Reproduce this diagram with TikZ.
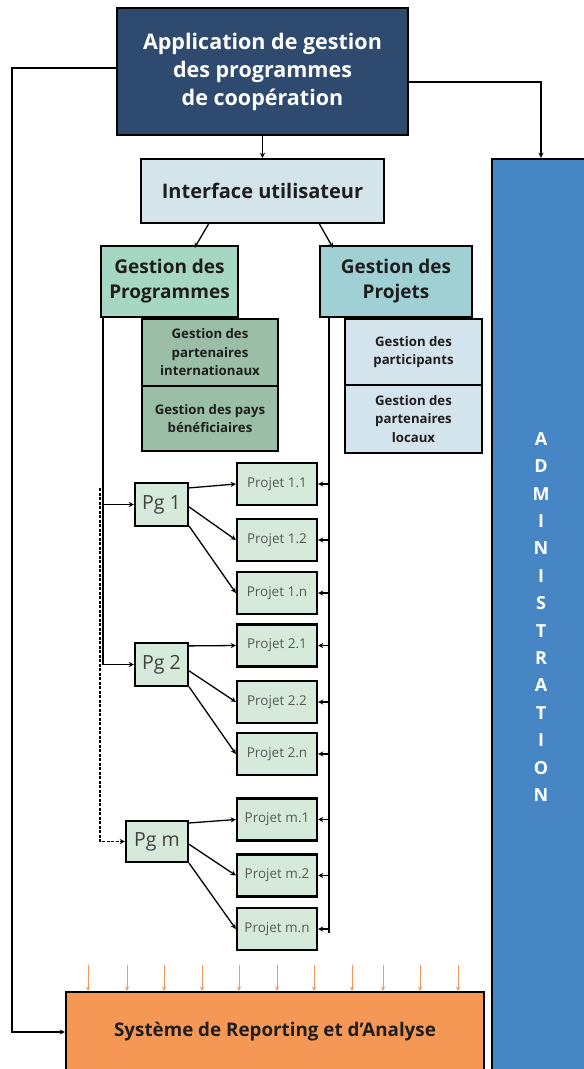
\documentclass[tikz,border=0pt]{standalone}
\usepackage{fontspec}
\setmainfont{Open Sans}
\usepackage{tikz}
\usetikzlibrary{calc}
\tikzset{>=stealth}

\definecolor{navy}{RGB}{46,74,110}
\definecolor{uiblue}{RGB}{211,228,234}
\definecolor{mint}{RGB}{166,214,196}
\definecolor{teal}{RGB}{160,208,212}
\definecolor{sage}{RGB}{155,191,166}
\definecolor{paleblue}{RGB}{212,228,236}
\definecolor{pale}{RGB}{213,234,219}
\definecolor{adminblue}{RGB}{70,134,197}
\definecolor{orangebox}{RGB}{246,152,85}
\definecolor{orangearr}{RGB}{247,150,90}
\definecolor{ink}{RGB}{30,30,30}

\tikzset{
  box/.style={draw=black,line width=2.2pt,align=center,inner sep=0pt},
  smallbox/.style={box,font=\fontsize{13.2}{18.5}\selectfont\bfseries,text=ink},
  pgbox/.style={box,fill=pale,minimum width=53pt,minimum height=43pt,
    font=\fontsize{19.5}{20}\selectfont,text=ink!85},
  projbox/.style={box,fill=pale,minimum width=80pt,minimum height=42pt,
    font=\fontsize{13.5}{14}\selectfont,text=black!65},
  link/.style={line width=1.3pt,->},
}

\begin{document}
\begin{tikzpicture}[x=1pt,y=-1pt]
      \clip (0,0) rectangle (584,1069);
      \useasboundingbox (0,0) rectangle (584,1069);

      % top level
      \node[box,fill=navy,text=white,minimum width=291pt,minimum height=127pt,
            font=\fontsize{21.5}{28}\selectfont\bfseries] (app) at (262.5,71.5)
            {Application de gestion\\des programmes\\de coopération};
      \node[box,fill=uiblue,text=ink,minimum width=243pt,minimum height=64pt,
            font=\fontsize{20}{22}\selectfont\bfseries] (ui) at (262.5,191)
            {Interface utilisateur};
      \node[box,fill=adminblue,text=white,minimum width=98pt,minimum height=916pt,
            font=\fontsize{18}{27.4}\selectfont\bfseries] (admin) at (541,617)
            {A\\D\\M\\I\\N\\I\\S\\T\\R\\A\\T\\I\\O\\N};
      \node[box,fill=orangebox,text=ink,minimum width=418pt,minimum height=80pt,
            font=\fontsize{18.8}{20}\selectfont\bfseries] (report) at (275,1032)
            {Système de Reporting et d'Analyse};

      % gestion
      \node[box,fill=mint,text=ink,minimum width=137pt,minimum height=71pt,
            font=\fontsize{19}{25}\selectfont\bfseries] (gprog) at (169.5,281.5)
            {Gestion des\\Programmes};
      \node[box,fill=teal,text=ink,minimum width=152pt,minimum height=71pt,
            font=\fontsize{19}{25}\selectfont\bfseries] (gproj) at (396,281.5)
            {Gestion des\\Projets};
      \node[smallbox,fill=sage,minimum width=136pt,minimum height=67pt] (gpart) at (210,352.5)
            {Gestion des\\partenaires\\internationaux};
      \node[smallbox,fill=sage,minimum width=136pt,minimum height=65pt] (gpays) at (210,418.5)
            {Gestion des pays\\bénéficiaires};
      \node[smallbox,fill=paleblue,minimum width=137pt,minimum height=66pt] (gparti) at (413.5,352)
            {Gestion des\\participants};
      \node[smallbox,fill=paleblue,minimum width=137pt,minimum height=68pt] (gploc) at (413.5,419)
            {Gestion des\\partenaires\\locaux};

      % programmes
      \node[pgbox] (pg1) at (161.5,504.5) {Pg 1};
      \node[pgbox] (pg2) at (161.5,664.5) {Pg 2};
      \node[pgbox,minimum width=62pt,minimum height=41pt] (pgm) at (157,841.5) {Pg m};

      % projets
      \node[projbox] (p11) at (277,484) {Projet 1.1};
      \node[projbox] (p12) at (277,540) {Projet 1.2};
      \node[projbox] (p1n) at (277,593) {Projet 1.n};
      \node[projbox] (p21) at (277,645.5) {Projet 2.1};
      \node[projbox] (p22) at (277,702) {Projet 2.2};
      \node[projbox] (p2n) at (277,754) {Projet 2.n};
      \node[projbox] (pm1) at (277,819.5) {Projet m.1};
      \node[projbox] (pm2) at (277,875.5) {Projet m.2};
      \node[projbox] (pmn) at (277,929) {Projet m.n};

      % connectors
      \draw[link] (app) -- (ui);
      \draw[link] ([xshift=-54pt]ui.south) -- ([xshift=25pt,yshift=-3pt]gprog.north);
      \draw[link] ([xshift=57pt]ui.south) -- ([xshift=-63pt,yshift=-3pt]gproj.north);
      \draw[link] ([yshift=-10.5pt]app.east) -| (admin.north);
      \draw[link] ([yshift=3.5pt]app.west) -- ++(-104,0) |- (report.west);

      \coordinate (lbot) at (103,664.5);
      \coordinate (dtop) at (100,488);
      \draw[line width=1.3pt] (gprog.south west -| lbot) -- (lbot);
      \draw[link] (pg1.west -| lbot) -- (pg1.west);
      \draw[link] (lbot) -- (pg2.west);
      \draw[link,dashed,dash pattern=on 3pt off 1.5pt] (dtop) |- (pgm.west);

      \draw[link] (pg1.31) -- (p11.west);
      \draw[link] (pg1.-5) -- (p12.west);
      \draw[link] (pg1.-38) -- (p1n.west);
      \draw[link] (pg2.34) -- (p21.west);
      \draw[link] (pg2.-13) -- (p22.west);
      \draw[link] (pg2.-39) -- (p2n.west);
      \draw[link] (pgm.30) -- (pm1.west);
      \draw[link] (pgm.-5) -- (pm2.west);
      \draw[link] (pgm.-34) -- (pmn.west);

      \coordinate (rbot) at (329,933);
      \draw[line width=1.3pt] (gproj.south west -| rbot) -- (rbot);
      \foreach \p in {p11,p12,p1n,p21,p22,p2n,pm1,pm2,pmn}
        \draw[link] (\p.east -| rbot) -- (\p.east);

      % reporting inputs
      \foreach \x in {88,127,164,202,239,277,314,352,383,420,458}
        \draw[->,orangearr,line width=1pt] (\x,965) -- (report.north -| {\x,965});
\end{tikzpicture}
\end{document}
